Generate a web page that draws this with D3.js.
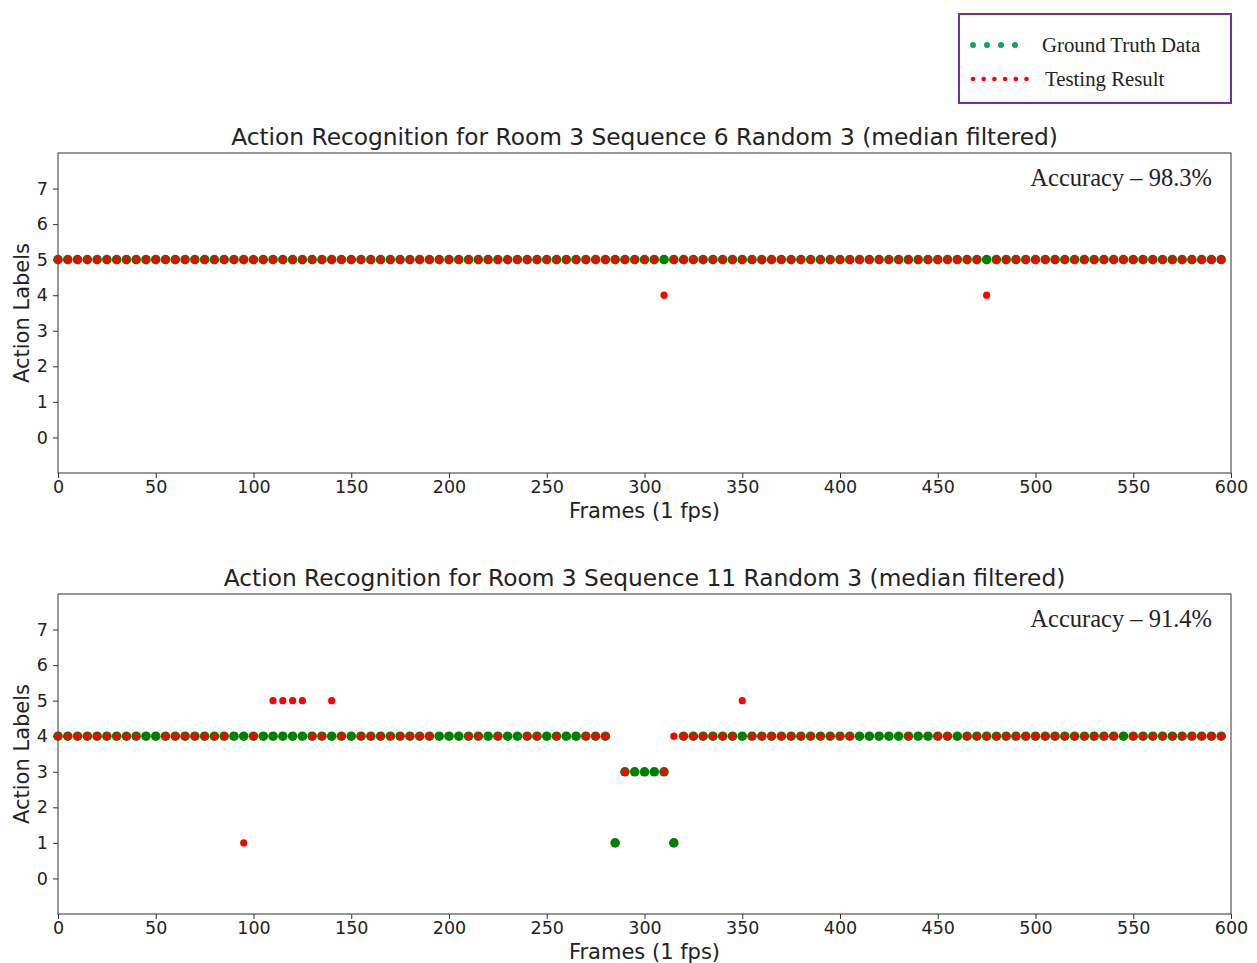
<!DOCTYPE html>
<html>
    <head>
        <meta charset="UTF-8">
        <script src="https://d3js.org/d3.v7.min.js"></script>
        <style>
            body { margin: 0; background: #fff; }
            .tick text { font-family: "DejaVu Sans", sans-serif; font-size: 17.5px; fill: #222; }
            .tick line { stroke: #333; }
        </style>
    </head>
    <body>
        <div id='chart'></div>
        <script type='text/javascript'>
            // frames sampled every 5 frames (1 fps)
            var frames = [
                0, 5, 10, 15, 20, 25, 30, 35, 40, 45, 50, 55, 60, 65, 70, 75, 80, 85, 90, 95,
                100, 105, 110, 115, 120, 125, 130, 135, 140, 145, 150, 155, 160, 165, 170, 175, 180, 185, 190, 195,
                200, 205, 210, 215, 220, 225, 230, 235, 240, 245, 250, 255, 260, 265, 270, 275, 280, 285, 290, 295,
                300, 305, 310, 315, 320, 325, 330, 335, 340, 345, 350, 355, 360, 365, 370, 375, 380, 385, 390, 395,
                400, 405, 410, 415, 420, 425, 430, 435, 440, 445, 450, 455, 460, 465, 470, 475, 480, 485, 490, 495,
                500, 505, 510, 515, 520, 525, 530, 535, 540, 545, 550, 555, 560, 565, 570, 575, 580, 585, 590, 595
            ];

            // Room 3 Sequence 6
            var truth6 = [
                5,5,5,5,5,5,5,5,5,5,5,5,5,5,5,5,5,5,5,5,
                5,5,5,5,5,5,5,5,5,5,5,5,5,5,5,5,5,5,5,5,
                5,5,5,5,5,5,5,5,5,5,5,5,5,5,5,5,5,5,5,5,
                5,5,5,5,5,5,5,5,5,5,5,5,5,5,5,5,5,5,5,5,
                5,5,5,5,5,5,5,5,5,5,5,5,5,5,5,5,5,5,5,5,
                5,5,5,5,5,5,5,5,5,5,5,5,5,5,5,5,5,5,5,5
            ];
            var test6 = [
                5,5,5,5,5,5,5,5,5,5,5,5,5,5,5,5,5,5,5,5,
                5,5,5,5,5,5,5,5,5,5,5,5,5,5,5,5,5,5,5,5,
                5,5,5,5,5,5,5,5,5,5,5,5,5,5,5,5,5,5,5,5,
                5,5,4,5,5,5,5,5,5,5,5,5,5,5,5,5,5,5,5,5,
                5,5,5,5,5,5,5,5,5,5,5,5,5,5,5,4,5,5,5,5,
                5,5,5,5,5,5,5,5,5,5,5,5,5,5,5,5,5,5,5,5
            ];

            // Room 3 Sequence 11
            var truth11 = [
                4,4,4,4,4,4,4,4,4,4,4,4,4,4,4,4,4,4,4,4,
                4,4,4,4,4,4,4,4,4,4,4,4,4,4,4,4,4,4,4,4,
                4,4,4,4,4,4,4,4,4,4,4,4,4,4,4,4,4,1,3,3,
                3,3,3,1,4,4,4,4,4,4,4,4,4,4,4,4,4,4,4,4,
                4,4,4,4,4,4,4,4,4,4,4,4,4,4,4,4,4,4,4,4,
                4,4,4,4,4,4,4,4,4,4,4,4,4,4,4,4,4,4,4,4
            ];
            var test11 = [
                4,4,4,4,4,4,4,4,4,null,null,4,4,4,4,4,4,4,null,1,
                4,null,5,5,5,5,4,4,5,4,null,4,4,4,4,4,4,4,4,null,
                null,null,4,4,null,4,null,null,4,4,null,4,null,null,4,4,4,null,3,null,
                null,null,3,4,4,4,4,4,4,4,5,4,4,4,4,4,4,4,4,4,
                4,4,null,null,null,null,null,4,null,null,4,4,null,4,4,4,4,4,4,4,
                4,4,4,4,4,4,4,4,4,null,4,4,4,4,4,4,4,4,4,4
            ];

            var xTicks = [0, 50, 100, 150, 200, 250, 300, 350, 400, 450, 500, 550, 600];
            var yTicks = [0, 1, 2, 3, 4, 5, 6, 7];

            var titles = [
                "Action Recognition for Room 3 Sequence 6 Random 3 (median filtered)",
                "Action Recognition for Room 3 Sequence 11 Random 3 (median filtered)"
            ];
            var accuracies = ["Accuracy \u2013 98.3%", "Accuracy \u2013 91.4%"];

            var legendLabels = ["Ground Truth Data", "Testing Result"];
            var legendColors = ["#00b050", "#ff0000"];
            var legendDots = [4, 6];

            var width = 1257;
            var height = 963;
            var left = 58, right = 1231;
            var panelTops = [153, 594];
            var panelHeight = 320;

            var svg = d3.select("#chart")
                .append("svg")
                .attr("width", width)
                .attr("height", height);

            var xscale = d3.scaleLinear()
                .domain([0, 600])
                .range([left, right]);

            function drawPanel(top, truth, test, title, accuracy) {
                var yscale = d3.scaleLinear()
                    .domain([-1, 8])
                    .range([top + panelHeight, top]);

                var g = svg.append("g");

                var xaxis = d3.axisBottom(xscale).tickValues(xTicks).tickSize(5).tickPadding(3).tickSizeOuter(0);
                var yaxis = d3.axisLeft(yscale).tickValues(yTicks).tickSize(5).tickPadding(5).tickSizeOuter(0);

                g.append("g")
                    .attr("transform", "translate(0," + (top + panelHeight) + ")")
                    .call(xaxis)
                    .select(".domain").remove();
                g.append("g")
                    .attr("transform", "translate(" + left + ",0)")
                    .call(yaxis)
                    .select(".domain").remove();

                // spines
                g.append("rect")
                    .attr("x", left)
                    .attr("y", top)
                    .attr("width", right - left)
                    .attr("height", panelHeight)
                    .attr("fill", "none")
                    .attr("stroke", "#333")
                    .attr("stroke-width", 1);

                var truthPts = frames.map((f, i) => ({ f: f, v: truth[i] }));
                var testPts = frames.map((f, i) => ({ f: f, v: test[i] })).filter(d => d.v !== null);

                g.append("g").selectAll("circle")
                    .data(truthPts)
                    .enter()
                    .append("circle")
                    .attr("cx", d => xscale(d.f))
                    .attr("cy", d => yscale(d.v))
                    .attr("r", 4.8)
                    .attr("fill", "#008000");

                g.append("g").selectAll("circle")
                    .data(testPts)
                    .enter()
                    .append("circle")
                    .attr("cx", d => xscale(d.f))
                    .attr("cy", d => yscale(d.v))
                    .attr("r", 3.6)
                    .attr("fill", "#ff0000");

                g.append("text")
                    .attr("x", (left + right) / 2)
                    .attr("y", top - 8)
                    .attr("text-anchor", "middle")
                    .style("font-family", "DejaVu Sans, sans-serif")
                    .style("font-size", "23.3px")
                    .style("fill", "#222")
                    .text(title);

                g.append("text")
                    .attr("x", (left + right) / 2)
                    .attr("y", top + panelHeight + 45)
                    .attr("text-anchor", "middle")
                    .style("font-family", "DejaVu Sans, sans-serif")
                    .style("font-size", "21px")
                    .style("fill", "#222")
                    .text("Frames (1 fps)");

                g.append("text")
                    .attr("transform", "translate(29," + (top + panelHeight / 2) + ") rotate(-90)")
                    .attr("text-anchor", "middle")
                    .style("font-family", "DejaVu Sans, sans-serif")
                    .style("font-size", "21px")
                    .style("fill", "#222")
                    .text("Action Labels");

                g.append("text")
                    .attr("x", 1212)
                    .attr("y", top + 33)
                    .attr("text-anchor", "end")
                    .style("font-family", "Liberation Serif, serif")
                    .style("font-size", "24.5px")
                    .style("fill", "#222")
                    .text(accuracy);
            }

            drawPanel(panelTops[0], truth6, test6, titles[0], accuracies[0]);
            drawPanel(panelTops[1], truth11, test11, titles[1], accuracies[1]);

            // legend
            var legend = svg.append("g");
            legend.append("rect")
                .attr("x", 959)
                .attr("y", 14)
                .attr("width", 272)
                .attr("height", 89)
                .attr("fill", "#fff")
                .attr("stroke", "#7030a0")
                .attr("stroke-width", 2);

            legendLabels.forEach(function (label, i) {
                var cy = 45 + i * 34;
                var n = legendDots[i];
                var step = i === 0 ? 14 : 10.7;
                legend.append("g").selectAll("circle")
                    .data(d3.range(n))
                    .enter()
                    .append("circle")
                    .attr("cx", k => 973 + k * step)
                    .attr("cy", cy)
                    .attr("r", i === 0 ? 3 : 2.3)
                    .attr("fill", legendColors[i]);
                legend.append("text")
                    .attr("x", i === 0 ? 1042 : 1045)
                    .attr("y", cy + 7)
                    .style("font-family", "Liberation Serif, serif")
                    .style("font-size", "20.8px")
                    .style("fill", "#222")
                    .text(label);
            });
        </script>
    </body>
</html>
